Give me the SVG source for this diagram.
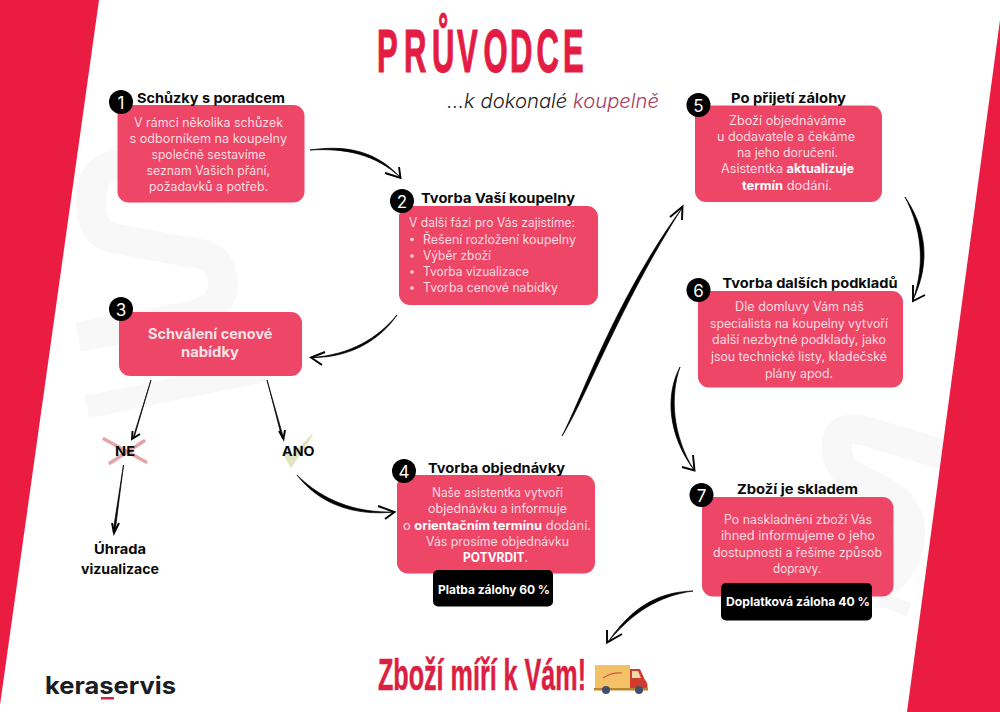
<svg xmlns="http://www.w3.org/2000/svg" width="1000" height="712" viewBox="0 0 1000 712">
<style>
.box{fill:#ee4667}
.blk{fill:#000}
.num{fill:#fff;font:400 17px Inter,"Liberation Sans",sans-serif;text-anchor:middle}
.h{fill:#0a0a0a;font:700 13.6px Inter,"Liberation Sans",sans-serif}
.t{fill:#fbdde2;font:400 12.6px Inter,"Liberation Sans",sans-serif}
.t tspan{fill:#fff;font-weight:700}
.w{fill:#fff;font:700 11.8px Inter,"Liberation Sans",sans-serif}
.b{fill:#f8e3e7;font:700 14.4px Inter,"Liberation Sans",sans-serif}
.wm{fill:none;stroke:#f8f8f8;stroke-linejoin:round}
.ar{fill:#000;stroke:#000;stroke-width:.7;stroke-linejoin:round}
.hd{fill:none;stroke:#000;stroke-width:1.9;stroke-linejoin:miter}
.cond{font-family:"Liberation Sans",Arial,sans-serif;font-weight:700;fill:#e31c43;stroke:#e31c43}
</style>
<rect width="1000" height="712" fill="#fff"/>
<g id="background">
<path class="wm" stroke-width="30" d="M200,150 L112,166 Q89,172 91,205 Q91,232 112,238 L205,255 Q223,262 223,285 Q223,305 195,315 L78,337"/>
<path class="wm" stroke-width="23" d="M87,407 L267,370"/>
<path class="wm" stroke-width="30" d="M945,455 L862,430 Q835,425 837,450 Q838,470 860,480 L880,490 Q912,505 910,535 Q908,565 885,582"/>
<path class="wm" stroke-width="14" d="M880,598 L909,610"/>
<polygon points="0,0 99,0 0,705" fill="#ea1c42"/>
<polygon points="1000,20 1000,712 907,712" fill="#ea1c42"/>
</g>
<g id="title">
<text class="cond" transform="translate(0,72) scale(.5,1)" x="754 808 864 914 967 1020 1073 1126" y="0" font-size="62" stroke-width="1.200">PRŮVODCE</text>
<text x="447" y="108" font-family="Inter,'Liberation Sans',sans-serif" font-size="20" font-weight="300" font-style="italic" fill="#222" textLength="212" lengthAdjust="spacingAndGlyphs">...k dokonalé <tspan fill="#a93a5c">koupelně</tspan></text>
</g>
<g id="connectors">
<path class="ar" d="M310,150 C345,145 375,150 400,177 C375,154 345,148 310,150Z"/>
<path class="hd" d="M385,173 L400.500,178 L399,167"/>
<path class="ar" d="M397,315 C380,340 350,358 312,357.500 C350,355 378,338 397,315Z"/>
<path class="hd" d="M325,352 L311,357.500 L322,365"/>
<path class="ar" d="M151,380 L133,438 L134,438Z"/>
<path class="hd" d="M132.500,431 L132,439 L140,434"/>
<path class="ar" d="M267,380 L282,438 L283.500,438Z"/>
<path class="hd" d="M279,431 L283.500,439 L285,430"/>
<path class="ar" d="M123.500,465 L113,532 L115,532Z"/>
<path class="hd" d="M112,523 L114,533 L119,523"/>
<path class="ar" d="M297,475 C320,505 355,516 394,512 C355,513 322,500 297,475Z"/>
<path class="hd" d="M378,506 L394.500,512 L385,519"/>
<path class="ar" d="M562,436 C585,400 620,305 682,208 C614,302 582,398 562,436Z"/>
<path class="hd" d="M670,217 L682.500,206.500 L682,220"/>
<path class="ar" d="M905,197 C926,228 931,262 913,300 C926,262 921,228 905,197Z"/>
<path class="hd" d="M913,285 L913,301 L925,295"/>
<path class="ar" d="M680,367 C665,395 668,435 694,470 C672,435 670,395 680,367Z"/>
<path class="hd" d="M682,467 L694.500,470.500 L693,455"/>
<path class="ar" d="M693,591 C655,592 630,610 608,642 C632,613 658,596 693,591Z"/>
<path class="hd" d="M607,630 L607,642.500 L622,634"/>
</g>
<g id="decision-marks">
<path d="M104,439 L146,462 M110,463 L144,441" fill="none" stroke="#e3a5a5" stroke-width="3.500" stroke-linecap="round"/>
<path d="M283,452 L291,467 L312,435 L293,455 Z" fill="#e0e6c4" stroke="#e0e6c4" stroke-width="1.500" stroke-linejoin="round"/>
</g>
<g id="node-1">
<rect class="box" x="117.500" y="105" width="187" height="97.500" rx="11"/>
<circle class="blk" cx="121" cy="102" r="12"/><text class="num" x="121" y="108.500">1</text>
<text class="h" x="137" y="102.500" textLength="148" lengthAdjust="spacingAndGlyphs">Schůzky s poradcem</text>
<text class="t" x="134" y="127" textLength="149" lengthAdjust="spacingAndGlyphs">V rámci několika schůzek</text>
<text class="t" x="129.500" y="143" textLength="157.500" lengthAdjust="spacingAndGlyphs">s odborníkem na koupelny</text>
<text class="t" x="151.500" y="159" textLength="114" lengthAdjust="spacingAndGlyphs">společně sestavíme</text>
<text class="t" x="146.500" y="175" textLength="123.500" lengthAdjust="spacingAndGlyphs">seznam Vašich přání,</text>
<text class="t" x="149" y="191" textLength="119" lengthAdjust="spacingAndGlyphs">požadavků a potřeb.</text>
</g>
<g id="node-2">
<rect class="box" x="399" y="206" width="199" height="99" rx="11"/>
<circle class="blk" cx="402" cy="201" r="12"/><text class="num" x="402" y="207.500">2</text>
<text class="h" x="421" y="203" textLength="154" lengthAdjust="spacingAndGlyphs">Tvorba Vaší koupelny</text>
<text class="t" x="409" y="226.500" textLength="166" lengthAdjust="spacingAndGlyphs">V další fázi pro Vás zajistíme:</text>
<circle cx="412" cy="239.500" r="1.800" fill="#fbdde2"/><text class="t" x="423" y="243.500" textLength="153" lengthAdjust="spacingAndGlyphs">Řešení rozložení koupelny</text>
<circle cx="412" cy="256" r="1.800" fill="#fbdde2"/><text class="t" x="423" y="259.500" textLength="68" lengthAdjust="spacingAndGlyphs">Výběr zboží</text>
<circle cx="412" cy="272" r="1.800" fill="#fbdde2"/><text class="t" x="423" y="276" textLength="106" lengthAdjust="spacingAndGlyphs">Tvorba vizualizace</text>
<circle cx="412" cy="288" r="1.800" fill="#fbdde2"/><text class="t" x="423" y="292" textLength="135" lengthAdjust="spacingAndGlyphs">Tvorba cenové nabídky</text>
</g>
<g id="node-3">
<rect class="box" x="119" y="312" width="183" height="64" rx="11"/>
<circle class="blk" cx="121" cy="309" r="12"/><text class="num" x="121" y="315.500">3</text>
<text class="b" x="148" y="338.500" textLength="124.500" lengthAdjust="spacingAndGlyphs">Schválení cenové</text>
<text class="b" x="181" y="357" textLength="58" lengthAdjust="spacingAndGlyphs">nabídky</text>
</g>
<g id="node-ne"><text class="h" x="115" y="455.500" textLength="20" lengthAdjust="spacingAndGlyphs">NE</text></g>
<g id="node-ano"><text class="h" x="282" y="455.500" textLength="32.500" lengthAdjust="spacingAndGlyphs">ANO</text></g>
<g id="node-uhrada">
<text class="h" x="94" y="553.500" textLength="52" lengthAdjust="spacingAndGlyphs">Úhrada</text>
<text class="h" x="81" y="573.500" textLength="78" lengthAdjust="spacingAndGlyphs">vizualizace</text>
</g>
<g id="node-4">
<rect class="box" x="397" y="475" width="198" height="98.500" rx="11"/>
<circle class="blk" cx="404" cy="471" r="12"/><text class="num" x="404" y="477.500">4</text>
<text class="h" x="428" y="472.500" textLength="137" lengthAdjust="spacingAndGlyphs">Tvorba objednávky</text>
<text class="t" x="432" y="497" textLength="131" lengthAdjust="spacingAndGlyphs">Naše asistentka vytvoří</text>
<text class="t" x="428" y="513" textLength="139" lengthAdjust="spacingAndGlyphs">objednávku a informuje</text>
<text class="t" x="403" y="529.500" textLength="188" lengthAdjust="spacingAndGlyphs">o <tspan>orientačním termínu</tspan> dodání.</text>
<text class="t" x="426" y="546" textLength="143" lengthAdjust="spacingAndGlyphs">Vás prosíme objednávku</text>
<text class="t" x="463" y="562" textLength="65" lengthAdjust="spacingAndGlyphs"><tspan>POTVRDIT</tspan>.</text>
<rect class="blk" x="433" y="570" width="120" height="36.500" rx="5"/>
<text class="w" x="438" y="594" textLength="112" lengthAdjust="spacingAndGlyphs">Platba zálohy 60 %</text>
</g>
<g id="node-5">
<rect class="box" x="695" y="105.500" width="187" height="96.500" rx="11"/>
<circle class="blk" cx="698.500" cy="105" r="12"/><text class="num" x="698.500" y="111.500">5</text>
<text class="h" x="731" y="102.500" textLength="115" lengthAdjust="spacingAndGlyphs">Po přijetí zálohy</text>
<text class="t" x="729" y="124.500" textLength="117" lengthAdjust="spacingAndGlyphs">Zboží objednáváme</text>
<text class="t" x="717" y="141" textLength="138" lengthAdjust="spacingAndGlyphs">u dodavatele a čekáme</text>
<text class="t" x="737" y="157" textLength="101" lengthAdjust="spacingAndGlyphs">na jeho doručení.</text>
<text class="t" x="721" y="173" textLength="133" lengthAdjust="spacingAndGlyphs">Asistentka <tspan>aktualizuje</tspan></text>
<text class="t" x="742" y="190" textLength="90" lengthAdjust="spacingAndGlyphs"><tspan>termín</tspan> dodání.</text>
</g>
<g id="node-6">
<rect class="box" x="698" y="291" width="205" height="96.500" rx="11"/>
<circle class="blk" cx="698.500" cy="290" r="12"/><text class="num" x="698.500" y="296.500">6</text>
<text class="h" x="722.500" y="287.500" textLength="175" lengthAdjust="spacingAndGlyphs">Tvorba dalších podkladů</text>
<text class="t" x="735" y="311" textLength="129" lengthAdjust="spacingAndGlyphs">Dle domluvy Vám náš</text>
<text class="t" x="710" y="327.500" textLength="178" lengthAdjust="spacingAndGlyphs">specialista na koupelny vytvoří</text>
<text class="t" x="712" y="344" textLength="174" lengthAdjust="spacingAndGlyphs">další nezbytné podklady, jako</text>
<text class="t" x="711" y="361" textLength="176" lengthAdjust="spacingAndGlyphs">jsou technické listy, kladečské</text>
<text class="t" x="765" y="378" textLength="68" lengthAdjust="spacingAndGlyphs">plány apod.</text>
</g>
<g id="node-7">
<rect class="box" x="702" y="497" width="191.500" height="99.500" rx="11"/>
<circle class="blk" cx="701.500" cy="495" r="12"/><text class="num" x="701.500" y="501.500">7</text>
<text class="h" x="737" y="493.500" textLength="121" lengthAdjust="spacingAndGlyphs">Zboží je skladem</text>
<text class="t" x="724" y="524" textLength="148" lengthAdjust="spacingAndGlyphs">Po naskladnění zboží Vás</text>
<text class="t" x="721" y="540" textLength="154" lengthAdjust="spacingAndGlyphs">ihned informujeme o jeho</text>
<text class="t" x="713" y="557" textLength="169" lengthAdjust="spacingAndGlyphs">dostupnosti a řešíme způsob</text>
<text class="t" x="773" y="573" textLength="48" lengthAdjust="spacingAndGlyphs">dopravy.</text>
<rect class="blk" x="721" y="583" width="151" height="37.500" rx="5"/>
<text class="w" x="726" y="606" textLength="144" lengthAdjust="spacingAndGlyphs">Doplatková záloha 40 %</text>
</g>
<g id="node-end">
<text class="cond" x="378" y="690" font-size="44" stroke-width=".5" textLength="208" lengthAdjust="spacingAndGlyphs" style="fill:#da1f42;stroke:#da1f42">Zboží míří k Vám!</text>
<g id="truck">
<rect x="595" y="665" width="35" height="23" fill="#f3c268"/>
<path d="M603,678 Q612,672 622,673" fill="none" stroke="#d9534a" stroke-width="1.200"/>
<path d="M630,669 H640 L645,680 Q648,682 647.500,690 H630Z" fill="#cf3b2c"/>
<path d="M632,671 H638 L641,678 H632Z" fill="#f2d9b0"/>
<rect x="594" y="688" width="54" height="2.500" fill="#b9862f"/>
<circle cx="606" cy="690" r="4" fill="#3d5070"/>
<circle cx="639" cy="690" r="4" fill="#3d5070"/>
</g>
</g>
<g id="logo">
<text x="45" y="694" font-family="Inter,'Liberation Sans',sans-serif" font-size="24" font-weight="700" fill="#1c1c22" textLength="131" lengthAdjust="spacingAndGlyphs">keraservis</text>
<rect x="101" y="697" width="13" height="2.500" fill="#d6224a"/>
</g>
</svg>
